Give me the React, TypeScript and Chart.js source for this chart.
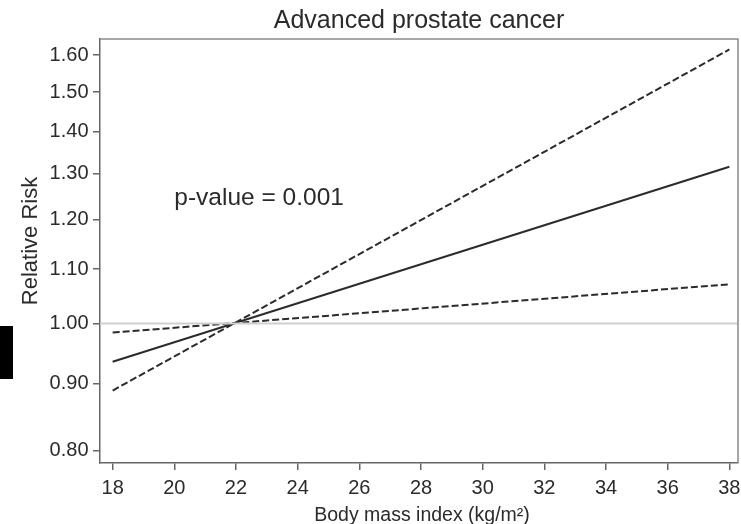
import { useEffect, useRef } from "react";
import { Chart, registerables } from "chart.js";

Chart.register(...registerables);

// BMI at the two ends of the fitted trend
const bmiEnds = [18, 38];
// Relative risk of advanced prostate cancer: point estimate and the two confidence bounds
const rrEstimate = [0.935, 1.316];
const rrBoundSteep = [0.889, 1.616];
const rrBoundFlat = [0.984, 1.071];
const referenceRR = 1;

const xTicks = [18, 20, 22, 24, 26, 28, 30, 32, 34, 36, 38];
const yTicks = [0.8, 0.9, 1.0, 1.1, 1.2, 1.3, 1.4, 1.5, 1.6];
const xLimits = [17.59, 38.28];
const yLimits = [0.783, 1.646];

const titleText = "Advanced prostate cancer";
const xTitle = "Body mass index (kg/m²)";
const yTitle = "Relative Risk";
const pValueText = "p-value = 0.001";
const pValueAt = [20, 1.23];

const FONT = "'Liberation Sans', Arial, Helvetica, sans-serif";
const INK = "#2b2b2b";
const AXIS = "#666666";

export default function App() {
  const canvasRef = useRef<HTMLCanvasElement>(null);

  useEffect(() => {
    const canvas = canvasRef.current;
    if (!canvas) return;

    const toPoints = (ys: number[]) => bmiEnds.map((x, i) => ({ x, y: ys[i] }));

    // closes the plot box on the top and right
    const frame = {
      id: "frame",
      afterDatasetsDraw(c: any) {
        const { ctx, chartArea } = c;
        const { left, top, right, bottom } = chartArea;
        ctx.save();
        ctx.strokeStyle = "#8a8a8a";
        ctx.lineWidth = 1.5;
        ctx.beginPath();
        ctx.moveTo(left, top);
        ctx.lineTo(right, top);
        ctx.lineTo(right, bottom);
        ctx.stroke();
        ctx.restore();
      },
    };

    // axis titles and the p-value note
    const notes = {
      id: "notes",
      afterDraw(c: any) {
        const { ctx, chartArea, scales } = c;
        const { x, y } = scales;
        ctx.save();
        ctx.fillStyle = INK;

        ctx.font = `24.5px ${FONT}`;
        ctx.textAlign = "left";
        ctx.textBaseline = "alphabetic";
        ctx.fillText(pValueText, x.getPixelForValue(pValueAt[0]), y.getPixelForValue(pValueAt[1]));

        ctx.font = `19.5px ${FONT}`;
        ctx.textAlign = "center";
        ctx.fillText(xTitle, (chartArea.left + chartArea.right) / 2 + 3, 521);

        ctx.font = `22px ${FONT}`;
        ctx.translate(36.7, 241);
        ctx.rotate(-Math.PI / 2);
        ctx.fillText(yTitle, 0, 0);
        ctx.restore();
      },
    };

    const chart = new Chart(canvas, {
      type: "line",
      data: {
        datasets: [
          {
            data: xLimits.map((x) => ({ x, y: referenceRR })),
            borderColor: "#cfcfcf",
            borderWidth: 2,
          },
          {
            data: toPoints(rrBoundFlat),
            borderColor: INK,
            borderWidth: 2,
            borderDash: [7, 3],
          },
          {
            data: toPoints(rrEstimate),
            borderColor: INK,
            borderWidth: 2,
          },
          {
            data: toPoints(rrBoundSteep),
            borderColor: INK,
            borderWidth: 2,
            borderDash: [7, 3],
          },
        ],
      },
      options: {
        responsive: false,
        animation: false,
        devicePixelRatio: 1,
        layout: { padding: { left: 0, right: 3, top: 0, bottom: 0 } },
        elements: { point: { radius: 0 }, line: { tension: 0 } },
        plugins: {
          legend: { display: false },
          tooltip: { enabled: false },
          title: {
            display: true,
            text: titleText,
            fullSize: false,
            color: INK,
            font: { family: FONT, size: 25, weight: "normal" },
            padding: { top: 6.3, bottom: 2.7 },
          },
        },
        scales: {
          x: {
            type: "linear",
            min: xLimits[0],
            max: xLimits[1],
            afterBuildTicks: (s: any) => {
              s.ticks = xTicks.map((value) => ({ value }));
            },
            afterFit: (s: any) => {
              s.height = 61;
              s.paddingLeft = 0;
              s.paddingRight = 0;
            },
            grid: { drawOnChartArea: false, drawTicks: true, tickLength: 7, color: AXIS, lineWidth: 1.5 },
            border: { display: true, color: AXIS, width: 1.5 },
            ticks: {
              color: INK,
              font: { family: FONT, size: 20 },
              padding: 6.5,
              maxRotation: 0,
              autoSkip: false,
              callback: (v: any) => String(v),
            },
          },
          y: {
            type: "logarithmic",
            min: yLimits[0],
            max: yLimits[1],
            afterBuildTicks: (s: any) => {
              s.ticks = yTicks.map((value) => ({ value }));
            },
            afterFit: (s: any) => {
              s.width = 100;
              s.paddingTop = 0;
              s.paddingBottom = 0;
            },
            grid: { drawOnChartArea: false, drawTicks: true, tickLength: 7, color: AXIS, lineWidth: 1.5 },
            border: { display: true, color: AXIS, width: 1.5 },
            ticks: {
              color: INK,
              font: { family: FONT, size: 20 },
              padding: 4.5,
              autoSkip: false,
              callback: (v: any) => Number(v).toFixed(2),
            },
          },
        },
      },
      plugins: [frame, notes],
    } as any);

    return () => chart.destroy();
  }, []);

  return (
    <div style={{ position: "fixed", left: 0, top: 0, width: 741, height: 524, background: "#fff" }}>
      <canvas ref={canvasRef} width={741} height={524} style={{ display: "block" }} />
      <div style={{ position: "absolute", left: 0, top: 326, width: 13, height: 53, background: "#000" }} />
    </div>
  );
}
